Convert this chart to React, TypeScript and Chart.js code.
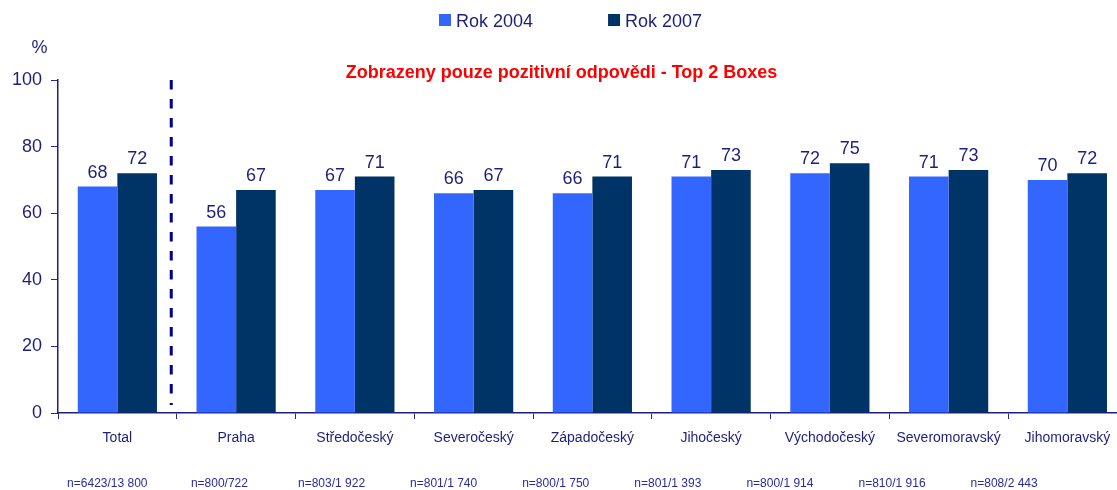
import React, { useEffect, useRef } from "react";
import { Chart, registerables } from "chart.js";

Chart.register(...registerables);

const categories = [
  "Total",
  "Praha",
  "Středočeský",
  "Severočeský",
  "Západočeský",
  "Jihočeský",
  "Východočeský",
  "Severomoravský",
  "Jihomoravský",
];
const rok2004 = [68, 56, 67, 66, 66, 71, 72, 71, 70];
const rok2007 = [72, 67, 71, 67, 71, 73, 75, 73, 72];
const sampleSizes = [
  "n=6423/13 800",
  "n=800/722",
  "n=803/1 922",
  "n=801/1 740",
  "n=800/1 750",
  "n=801/1 393",
  "n=800/1 914",
  "n=810/1 916",
  "n=808/2 443",
];
const seriesNames = ["Rok 2004", "Rok 2007"];
const yTicks = [0, 20, 40, 60, 80, 100];
const titleText = "Zobrazeny pouze pozitivní odpovědi - Top 2 Boxes";
const unitLabel = "%";

const FONT = "'Liberation Sans', Arial, sans-serif";
const NAVY = "#1e1e7c";
const C2004 = "#3366ff";
const C2007 = "#003366";

const CANVAS_W = 1134;
const CANVAS_H = 490;

const overlayPlugin = {
  id: "overlay",
  afterDatasetsDraw(chart: any) {
    const ctx = chart.ctx;
    ctx.save();
    ctx.font = `18px ${FONT}`;
    ctx.fillStyle = NAVY;
    ctx.textAlign = "center";
    ctx.textBaseline = "alphabetic";
    chart.data.datasets.forEach((ds: any, di: number) => {
      const meta = chart.getDatasetMeta(di);
      meta.data.forEach((bar: any, i: number) => {
        ctx.fillText(String(ds.data[i]), bar.x, bar.y - 9);
      });
    });
    ctx.restore();
  },
  afterDraw(chart: any) {
    const ctx = chart.ctx;
    const area = chart.chartArea;
    const xs = chart.scales.x;
    const catW = (area.right - area.left) / categories.length;
    ctx.save();

    // unit label
    ctx.font = `18px ${FONT}`;
    ctx.fillStyle = NAVY;
    ctx.textAlign = "center";
    ctx.textBaseline = "alphabetic";
    ctx.fillText(unitLabel, area.left - 18.5, 53);

    // title
    ctx.font = `bold 18px ${FONT}`;
    ctx.fillStyle = "#ff0000";
    ctx.textAlign = "center";
    ctx.fillText(titleText, chart.width / 2 - 5.5, 78);

    // legend
    ctx.font = `18px ${FONT}`;
    ctx.textAlign = "left";
    let lx = 439;
    [C2004, C2007].forEach((col, i) => {
      ctx.fillStyle = col;
      ctx.fillRect(lx, 14, 12, 12);
      ctx.fillStyle = NAVY;
      ctx.fillText(seriesNames[i], lx + 17, 27);
      lx += 17 + ctx.measureText(seriesNames[i]).width + 75;
    });

    // dashed separator between Total and regions
    const sepX = (xs.getPixelForValue(0) + xs.getPixelForValue(1)) / 2 - 5.5;
    ctx.strokeStyle = "#00008f";
    ctx.lineWidth = 3;
    ctx.setLineDash([9.5, 9.5]);
    ctx.beginPath();
    ctx.moveTo(sepX, area.top);
    ctx.lineTo(sepX, area.bottom - 8);
    ctx.stroke();
    ctx.setLineDash([]);

    // sample sizes
    ctx.font = `12px ${FONT}`;
    ctx.fillStyle = "#2b2b9c";
    ctx.textAlign = "center";
    const step = catW * 0.944;
    sampleSizes.forEach((s, i) => {
      ctx.fillText(s, area.left + (i + 0.44) * step, 487);
    });
    ctx.restore();
  },
};

export default function App() {
  const ref = useRef<HTMLCanvasElement | null>(null);
  useEffect(() => {
    if (!ref.current) return;
    const chart = new Chart(ref.current, {
      type: "bar",
      data: {
        labels: categories,
        datasets: [
          {
            label: seriesNames[0],
            data: rok2004,
            backgroundColor: C2004,
            borderWidth: 0,
          },
          {
            label: seriesNames[1],
            data: rok2007,
            backgroundColor: C2007,
            borderWidth: 0,
          },
        ],
      },
      options: {
        responsive: false,
        animation: false,
        devicePixelRatio: 1,
        layout: { padding: { top: 80, left: 0, right: 7.25, bottom: 0 } },
        plugins: {
          legend: { display: false },
          title: { display: false },
          tooltip: { enabled: false },
        },
        datasets: {
          bar: { categoryPercentage: 0.667, barPercentage: 1.0 },
        },
        scales: {
          x: {
            offset: true,
            grid: {
              offset: true,
              drawOnChartArea: false,
              drawTicks: true,
              tickLength: 6,
              color: "#2a2a8a",
              lineWidth: 1,
            },
            border: { display: true, color: "#1e1e7c", width: 1.5 },
            ticks: {
              color: NAVY,
              font: { family: FONT, size: 14 },
              padding: 11,
              maxRotation: 0,
              autoSkip: false,
            },
            afterFit(scale: any) {
              scale.height = 77;
            },
          },
          y: {
            min: 0,
            max: 100,
            afterBuildTicks(scale: any) {
              scale.ticks = yTicks.map((v) => ({ value: v }));
            },
            grid: {
              drawOnChartArea: false,
              drawTicks: true,
              tickLength: 7,
              color: "#2a2a8a",
              lineWidth: 1,
            },
            border: { display: true, color: "#1e1e7c", width: 1.5 },
            ticks: {
              color: NAVY,
              font: { family: FONT, size: 18 },
              padding: 9,
            },
            afterFit(scale: any) {
              scale.width = 58;
            },
          },
        },
      },
      plugins: [overlayPlugin],
    });
    return () => chart.destroy();
  }, []);

  return (
    <div
      style={{
        position: "fixed",
        left: 0,
        top: 0,
        width: 1117,
        height: 490,
        overflow: "hidden",
        background: "#ffffff",
      }}
    >
      <canvas
        ref={ref}
        width={CANVAS_W}
        height={CANVAS_H}
        style={{ width: CANVAS_W, height: CANVAS_H, display: "block" }}
      />
    </div>
  );
}
